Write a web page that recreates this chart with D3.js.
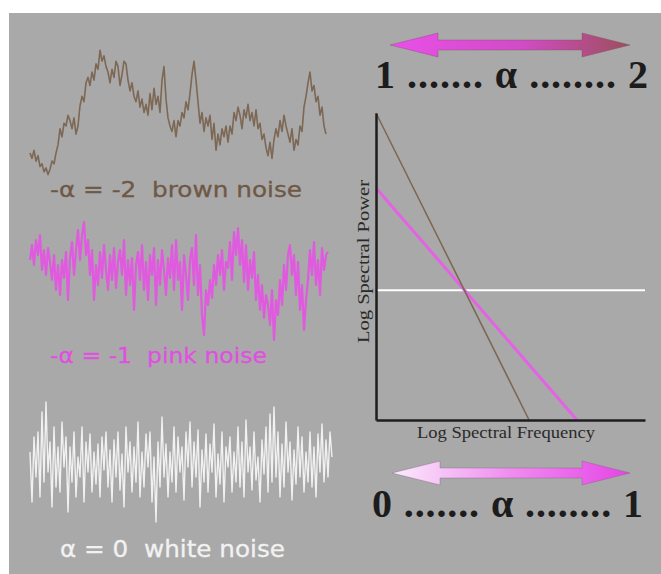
<!DOCTYPE html>
<html>
<head>
<meta charset="utf-8">
<script src="https://cdn.jsdelivr.net/npm/d3@7"></script>
<style>
  html, body { margin: 0; padding: 0; background: #fff; }
  svg { display: block; }
  .noise-label { white-space: pre; }
</style>
</head>
<body>
<div id="chart"></div>
<script>
// noise traces, one value every 2px, higher = up
const brownNoise = [
  20, 16, 22, 14, 18, 10, 12, 6, 9, 4,
  8, 14, 12, 20, 26, 38, 32, 42, 40, 48,
  44, 38, 46, 34, 40, 55, 62, 58, 72, 76,
  70, 80, 74, 86, 82, 96, 88, 92, 84, 80,
  72, 82, 76, 88, 84, 70, 78, 88, 86, 74,
  66, 72, 62, 58, 66, 54, 60, 50, 56, 48,
  64, 52, 68, 56, 62, 50, 74, 84, 60, 46,
  40, 36, 44, 32, 44, 40, 50, 46, 58, 52,
  64, 78, 88, 74, 58, 42, 50, 36, 46, 40,
  48, 30, 42, 22, 34, 26, 38, 32, 40, 28,
  40, 34, 50, 44, 54, 48, 38, 52, 46, 56,
  44, 50, 40, 52, 38, 42, 30, 34, 24, 18,
  28, 16, 30, 38, 32, 44, 36, 48, 40, 34,
  28, 38, 22, 30, 26, 40, 36, 54, 62, 72,
  80, 66, 70, 58, 62, 48, 54, 40, 34
];

const pinkNoise = [
  10, 25, 5, 30, 15, 35, 0, 20, -5, 22,
  8, -10, 15, -20, 5, -25, 10, -8, 18, -30,
  12, 28, -5, 20, 40, 10, 35, 48, 15, 30,
  -5, 20, -30, 5, -15, 18, -8, 25, 0, -20,
  15, -10, 22, -18, 8, 20, -5, 30, -25, 10,
  -15, 12, -40, 5, 18, -10, 25, -20, 8, -30,
  15, -5, 22, -35, 10, -15, 20, 0, -25, 12,
  -8, 25, -20, 30, -10, 8, -40, 15, -5, -30,
  10, 22, -15, 35, -25, 5, -45, -65, -20, -35,
  -10, -28, 5, -15, 15, -5, 20, -20, 8, 2,
  28, -10, 38, 15, 42, 5, 30, -12, 25, -20,
  10, -8, 18, -30, -5, -40, -15, -48, -25, -35,
  -55, -20, -70, -30, -45, -10, -35, 5, -20, 15,
  25, -5, 15, -25, 8, -40, -15, -60, -30, -10,
  20, -5, 28, -15, 10, -25, 22, 0, 15, 18
];

const whiteNoise = [
  10, -40, 25, -15, 30, -35, 50, -20, 60, -10,
  20, -45, 35, -25, 15, -30, 40, -5, 25, -50,
  15, -20, 30, -35, 5, -15, 35, -40, 20, -10,
  28, -30, 10, -22, 18, -35, 25, -8, 30, -25,
  12, -40, 22, -15, 30, -28, 8, -45, 35, -10,
  20, -30, 15, -20, 40, -35, 10, -25, 28, -5,
  30, -40, 5, -60, 20, -25, 45, -15, 18, -35,
  10, -20, 35, -30, 25, -10, 15, -38, 30, -5,
  40, -25, 20, -15, 32, -45, 12, -20, 28, -30,
  18, -10, 38, -35, 8, -22, 30, -40, 15, -5,
  25, -30, 10, -20, 35, -25, 20, -35, 42, -10,
  15, -28, 30, -18, 5, -40, 22, -12, 35, -30,
  48, -20, 55, -15, 30, -35, 18, -25, 40, -10,
  20, -38, 12, -22, 35, -15, 25, -30, 10, -20,
  30, -25, 15, -35, 28, -10, 38, -20, 22, -15, 30, 5
];

const noiseLabels = ["-\u03b1 = -2  brown noise", "-\u03b1 = -1  pink noise", "\u03b1 = 0  white noise"];

// spectrum sketch: [log frequency, log power] end points
const brownSpectrum = [[0, 10], [5.69, 0]];
const pinkSpectrum = [[0, 7.56], [7.47, 0]];
const whiteSpectrum = [[0, 4.23], [10, 4.23]];
const axisTitles = ["Log Spectral Frequency", "Log Spectral Power"];
const topScale = "1 ....... \u03b1 ........ 2";
const bottomScale = "0 ....... \u03b1 ........ 1";

const W = 661, H = 574;
const svg = d3.select("#chart").append("svg")
    .attr("width", W)
    .attr("height", H);

const defs = svg.append("defs");

function gradient(id, stops) {
    const g = defs.append("linearGradient").attr("id", id)
        .attr("x1", "0%").attr("x2", "100%").attr("y1", "0%").attr("y2", "0%");
    stops.forEach(s => g.append("stop").attr("offset", s[0]).attr("stop-color", s[1]));
}
gradient("gradTop", [["0%", "#ea4fea"], ["55%", "#d04cc4"], ["100%", "#9c4f5c"]]);
gradient("gradBottom", [["0%", "#fbecfb"], ["50%", "#f08cf0"], ["100%", "#e445e4"]]);

svg.append("rect")
    .attr("x", 9).attr("y", 13)
    .attr("width", W - 9).attr("height", H - 13)
    .attr("fill", "#a9a9a9");

// ---- noise traces ----
const xNoise = d3.scaleLinear().domain([0, 152]).range([30, 334]);

const bands = [
    { data: brownNoise, y: d3.scaleLinear().domain([0, 100]).range([180, 45]), color: "#7a6450", width: 1.6 },
    { data: pinkNoise, y: d3.scaleLinear().domain([-70, 50]).range([340, 220]), color: "#e255e2", width: 2.2 },
    { data: whiteNoise, y: d3.scaleLinear().domain([-65, 65]).range([527, 397]), color: "#f4f4f4", width: 1.4 }
];

bands.forEach(b => {
    const line = d3.line()
        .x((d, i) => xNoise(i))
        .y(d => b.y(d));
    svg.append("path")
        .datum(b.data)
        .attr("d", line)
        .attr("fill", "none")
        .attr("stroke", b.color)
        .attr("stroke-width", b.width)
        .attr("stroke-linejoin", "round")
        .attr("opacity", 0.95);
});

const labelPos = [
    { x: 50, y: 197, len: 252, color: "#6e5846", size: 22 },
    { x: 50, y: 363, len: 217, color: "#e050e0", size: 22 },
    { x: 60, y: 557, len: 225, color: "#f2f2f2", size: 23 }
];
labelPos.forEach((p, i) => {
    svg.append("text")
        .attr("class", "noise-label")
        .attr("x", p.x).attr("y", p.y)
        .attr("font-family", "'DejaVu Sans', sans-serif")
        .attr("font-size", p.size)
        .attr("font-weight", 500)
        .attr("fill", p.color)
        .attr("stroke", p.color)
        .attr("stroke-width", 0.3)
        .attr("textLength", p.len)
        .attr("lengthAdjust", "spacingAndGlyphs")
        .text(noiseLabels[i]);
});

// ---- spectrum panel ----
const x = d3.scaleLinear().domain([0, 10]).range([376, 645]);
const y = d3.scaleLinear().domain([0, 10]).range([420, 113]);

const specLine = d3.line().x(d => x(d[0])).y(d => y(d[1]));

svg.append("path").datum(whiteSpectrum).attr("d", specLine)
    .attr("stroke", "#ffffff").attr("stroke-width", 2).attr("fill", "none");
svg.append("path").datum(pinkSpectrum).attr("d", specLine)
    .attr("stroke", "#e462e4").attr("stroke-width", 3).attr("fill", "none");
svg.append("path").datum(brownSpectrum).attr("d", specLine)
    .attr("stroke", "#7d6550").attr("stroke-width", 1.5).attr("fill", "none");

svg.append("g")
    .attr("transform", `translate(0,${y(0)})`)
    .call(d3.axisBottom(x).ticks(0).tickSize(0).tickSizeOuter(0))
    .call(g => g.select(".domain").attr("stroke", "#1e1e1e").attr("stroke-width", 2.5));
svg.append("g")
    .attr("transform", `translate(${x(0)},0)`)
    .call(d3.axisLeft(y).ticks(0).tickSize(0).tickSizeOuter(0))
    .call(g => g.select(".domain").attr("stroke", "#1e1e1e").attr("stroke-width", 2.5));

svg.append("text")
    .attr("x", 417).attr("y", 438)
    .attr("font-family", "'Liberation Serif', serif")
    .attr("font-size", 16)
    .attr("fill", "#2a2a2a")
    .attr("textLength", 178)
    .attr("lengthAdjust", "spacingAndGlyphs")
    .text(axisTitles[0]);

svg.append("text")
    .attr("transform", "translate(369,343) rotate(-90)")
    .attr("font-family", "'Liberation Serif', serif")
    .attr("font-size", 16)
    .attr("fill", "#2a2a2a")
    .attr("textLength", 163)
    .attr("lengthAdjust", "spacingAndGlyphs")
    .text(axisTitles[1]);

// ---- double arrows and alpha scales ----
function arrowPath(x0, x1, cy) {
    const head = 48, hh = 12, sh = 5;
    return `M${x0},${cy} L${x0 + head},${cy - hh} L${x0 + head},${cy - sh} L${x1 - head},${cy - sh} ` +
        `L${x1 - head},${cy - hh} L${x1},${cy} L${x1 - head},${cy + hh} L${x1 - head},${cy + sh} ` +
        `L${x0 + head},${cy + sh} L${x0 + head},${cy + hh} Z`;
}

svg.append("path")
    .attr("d", arrowPath(390, 630, 45))
    .attr("fill", "url(#gradTop)")
    .attr("stroke", "#7a4a5a").attr("stroke-width", 0.6).attr("stroke-opacity", 0.6);
svg.append("path")
    .attr("d", arrowPath(392, 630, 473))
    .attr("fill", "url(#gradBottom)")
    .attr("stroke", "#7a5a7a").attr("stroke-width", 0.6).attr("stroke-opacity", 0.6);

[[topScale, 375, 88, 273], [bottomScale, 372, 517, 271]].forEach(t => {
    svg.append("text")
        .attr("x", t[1]).attr("y", t[2])
        .attr("font-family", "'Liberation Serif', serif")
        .attr("font-weight", "bold")
        .attr("font-size", 40)
        .attr("fill", "#1c1c1c")
        .attr("textLength", t[3])
        .attr("lengthAdjust", "spacing")
        .text(t[0]);
});
</script>
</body>
</html>
